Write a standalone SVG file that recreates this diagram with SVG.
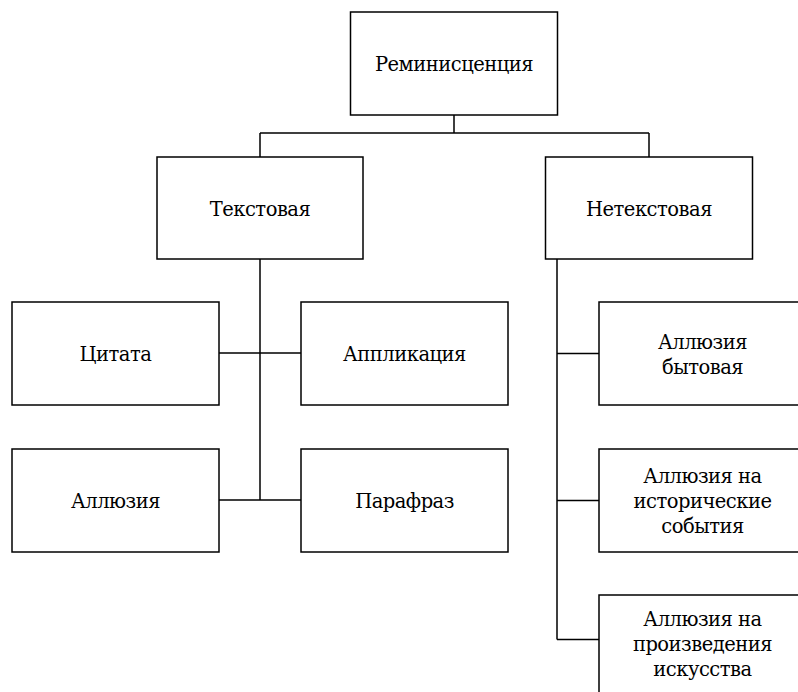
<svg xmlns="http://www.w3.org/2000/svg" width="798" height="692" viewBox="0 0 798 692">
<style>
.box{fill:#fff;stroke:#000;stroke-width:1.5}
.lbl{font-family:'DejaVu Serif','Liberation Serif',serif;font-size:19.5px;letter-spacing:-0.5px;fill:#000;text-anchor:middle}
.con{fill:none;stroke:#000;stroke-width:1.5}
</style>
<rect width="798" height="692" fill="#fff"/>
<g id="connectors">
<path class="con" d="M454 115V133M260 133H649M260 133V157M649 133V157"/>
<path class="con" d="M260 259V500M219 353H301M219 500H301"/>
<path class="con" d="M557 259V639.5M557 353.5H599M557 500.5H599M557 639.5H599"/>
</g>
<g id="n-root"><rect class="box" x="350.5" y="12" width="207" height="103"/><text class="lbl" x="454" y="71">Реминисценция</text></g>
<g id="n-text"><rect class="box" x="157" y="157" width="206" height="102"/><text class="lbl" x="260" y="216">Текстовая</text></g>
<g id="n-nontext"><rect class="box" x="545.5" y="157" width="207" height="102"/><text class="lbl" x="649" y="216">Нетекстовая</text></g>
<g id="n-citata"><rect class="box" x="12" y="302" width="207" height="103"/><text class="lbl" x="115.5" y="361">Цитата</text></g>
<g id="n-applik"><rect class="box" x="301" y="302" width="207" height="103"/><text class="lbl" x="404.5" y="361">Аппликация</text></g>
<g id="n-allusion"><rect class="box" x="12" y="449" width="207" height="103"/><text class="lbl" x="115.5" y="508">Аллюзия</text></g>
<g id="n-parafraz"><rect class="box" x="301" y="449" width="207" height="103"/><text class="lbl" x="404.5" y="508">Парафраз</text></g>
<g id="n-byt"><rect class="box" x="599" y="302" width="210" height="103"/><text class="lbl" x="702.5" y="349"><tspan x="702.5">Аллюзия</tspan><tspan x="702.5" dy="25">бытовая</tspan></text></g>
<g id="n-hist"><rect class="box" x="599" y="449" width="210" height="103"/><text class="lbl" x="702.5" y="483"><tspan x="702.5">Аллюзия на</tspan><tspan x="702.5" dy="25">исторические</tspan><tspan x="702.5" dy="25">события</tspan></text></g>
<g id="n-art"><rect class="box" x="599" y="595" width="210" height="110"/><text class="lbl" x="702.5" y="626"><tspan x="702.5">Аллюзия на</tspan><tspan x="702.5" dy="25">произведения</tspan><tspan x="702.5" dy="25">искусства</tspan></text></g>
</svg>
